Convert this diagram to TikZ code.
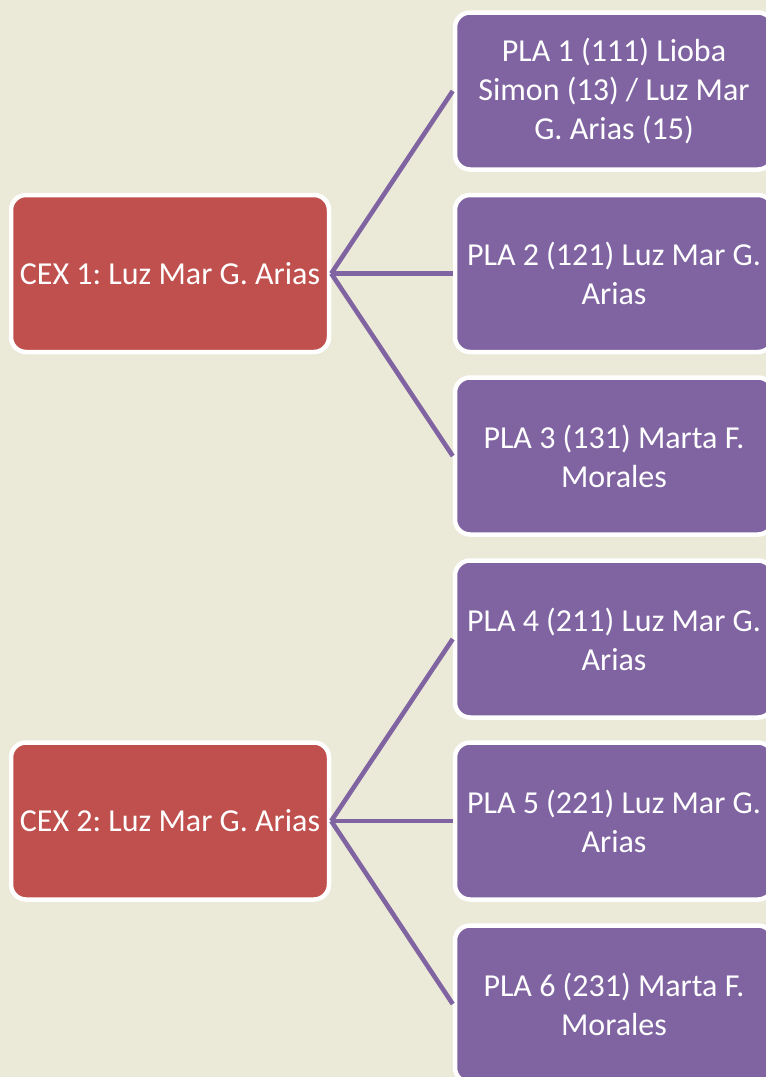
\documentclass[tikz,border=0pt]{standalone}
\usepackage{fontspec}
\setmainfont{Carlito}
\frenchspacing
\definecolor{bgc}{HTML}{EBE9D7}
\definecolor{redc}{HTML}{C0504D}
\definecolor{purc}{HTML}{8064A2}
\tikzset{
  boxbase/.style={draw=white, line width=4.5pt, rounded corners=15pt, minimum width=318pt, minimum height=157pt, text=white, align=center, inner sep=0pt, font=\fontsize{32pt}{39pt}\selectfont},
  cexbox/.style={boxbase, fill=redc},
  plabox/.style={boxbase, fill=purc},
  conn/.style={draw=purc, line width=4.6pt}
}
\begin{document}
\begin{tikzpicture}[x=1pt,y=-1pt]
\fill[bgc] (0,0) rectangle (766,1077);
\useasboundingbox (0,0) rectangle (766,1077);
\clip (0,0) rectangle (766,1077);
\path node[cexbox] (cex1) at (170,273.5) {CEX 1: Luz Mar G. Arias};
\path node[cexbox] (cex2) at (170,821) {CEX 2: Luz Mar G. Arias};
\path node[plabox] (p1) at (614,91) {PLA 1 (111) Lioba\\Simon (13) / Luz Mar\\G. Arias (15)};
\path node[plabox] (p2) at (614,273.5) {PLA 2 (121) Luz Mar G.\\Arias};
\path node[plabox] (p3) at (614,456) {PLA 3 (131) Marta F.\\Morales};
\path node[plabox] (p4) at (614,639) {PLA 4 (211) Luz Mar G.\\Arias};
\path node[plabox] (p5) at (614,821) {PLA 5 (221) Luz Mar G.\\Arias};
\path node[plabox] (p6) at (614,1004) {PLA 6 (231) Marta F.\\Morales};
\draw[conn] (cex1.east) -- (p1.west);
\draw[conn] (cex1.east) -- (p2.west);
\draw[conn] (cex1.east) -- (p3.west);
\draw[conn] (cex2.east) -- (p4.west);
\draw[conn] (cex2.east) -- (p5.west);
\draw[conn] (cex2.east) -- (p6.west);
\end{tikzpicture}
\end{document}
